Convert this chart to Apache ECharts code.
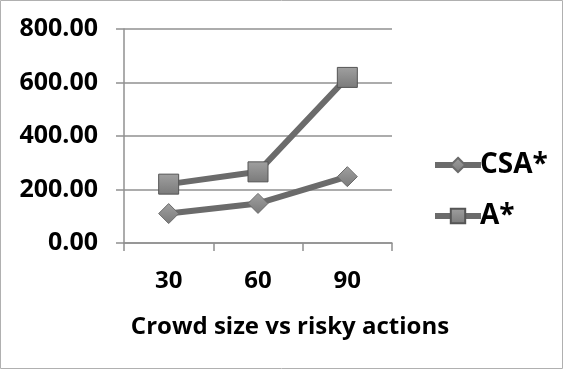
<!DOCTYPE html>
<html>
<head>
<meta charset="utf-8">
<script src="https://cdn.jsdelivr.net/npm/echarts@6/dist/echarts.min.js"></script>
<style>
  html, body { margin: 0; padding: 0; background: #fff; }
  #chart { width: 567px; height: 371px; }
</style>
</head>
<body>
<div id="chart"></div>
<script>
const categories = ['30', '60', '90'];
const csaValues = [110, 148, 248];
const aValues = [220, 266, 619];
const yTicks = { min: 0, max: 800, interval: 200 };

const markerFill = new echarts.graphic.LinearGradient(0, 0, 0, 1, [
  { offset: 0, color: '#a0a0a0' },
  { offset: 1, color: '#7a7a7a' }
]);
const font = '"Open Sans"';

const chart = echarts.init(document.getElementById('chart'));
chart.setOption({
  animation: false,
  graphic: [{
    type: 'rect',
    shape: { x: 0.5, y: 0.5, width: 562, height: 368 },
    style: { fill: 'none', stroke: '#b0b0b0', lineWidth: 1 }
  }],
  grid: { left: 124, right: 175, top: 29, bottom: 128 },
  legend: {
    orient: 'vertical',
    left: 427,
    top: 146,
    itemGap: 23,
    itemWidth: 46,
    itemHeight: 18,
    lineStyle: { width: 6, color: '#6b6b6b' },
    textStyle: { fontFamily: font, fontWeight: 'bold', fontSize: 28, color: '#000', padding: [0, 0, 0, -6] },
    data: ['CSA*', 'A*']
  },
  xAxis: {
    type: 'category',
    data: categories,
    boundaryGap: true,
    name: 'Crowd size vs risky actions',
    nameLocation: 'middle',
    nameGap: 72,
    nameTextStyle: { fontFamily: font, fontSize: 24, fontWeight: 'bold', color: '#000', padding: [0, 0, 0, 64] },
    axisLine: { lineStyle: { color: '#909090', width: 1.5 } },
    axisTick: { show: true, length: 8, lineStyle: { color: '#909090', width: 1.5 } },
    axisLabel: { fontFamily: font, fontWeight: 'bold', fontSize: 24, color: '#000', margin: 26 }
  },
  yAxis: {
    type: 'value',
    min: yTicks.min,
    max: yTicks.max,
    interval: yTicks.interval,
    axisLine: { show: true, lineStyle: { color: '#909090', width: 1.5 } },
    axisTick: { show: true, length: 8, lineStyle: { color: '#909090', width: 1.5 } },
    splitLine: { lineStyle: { color: '#909090', width: 1.5 } },
    axisLabel: {
      fontFamily: font, fontWeight: 'bold', fontSize: 25, color: '#000', margin: 26,
      formatter: v => v.toFixed(2)
    }
  },
  series: [
    {
      name: 'CSA*',
      type: 'line',
      data: csaValues,
      symbol: 'diamond',
      symbolSize: 20,
      lineStyle: { color: '#6b6b6b', width: 6 },
      itemStyle: { color: markerFill, borderColor: '#6a6a6a', borderWidth: 1 }
    },
    {
      name: 'A*',
      type: 'line',
      data: aValues,
      symbol: 'rect',
      symbolSize: 20,
      lineStyle: { color: '#6b6b6b', width: 6 },
      itemStyle: { color: markerFill, borderColor: '#555', borderWidth: 1 }
    }
  ]
});
</script>
</body>
</html>
